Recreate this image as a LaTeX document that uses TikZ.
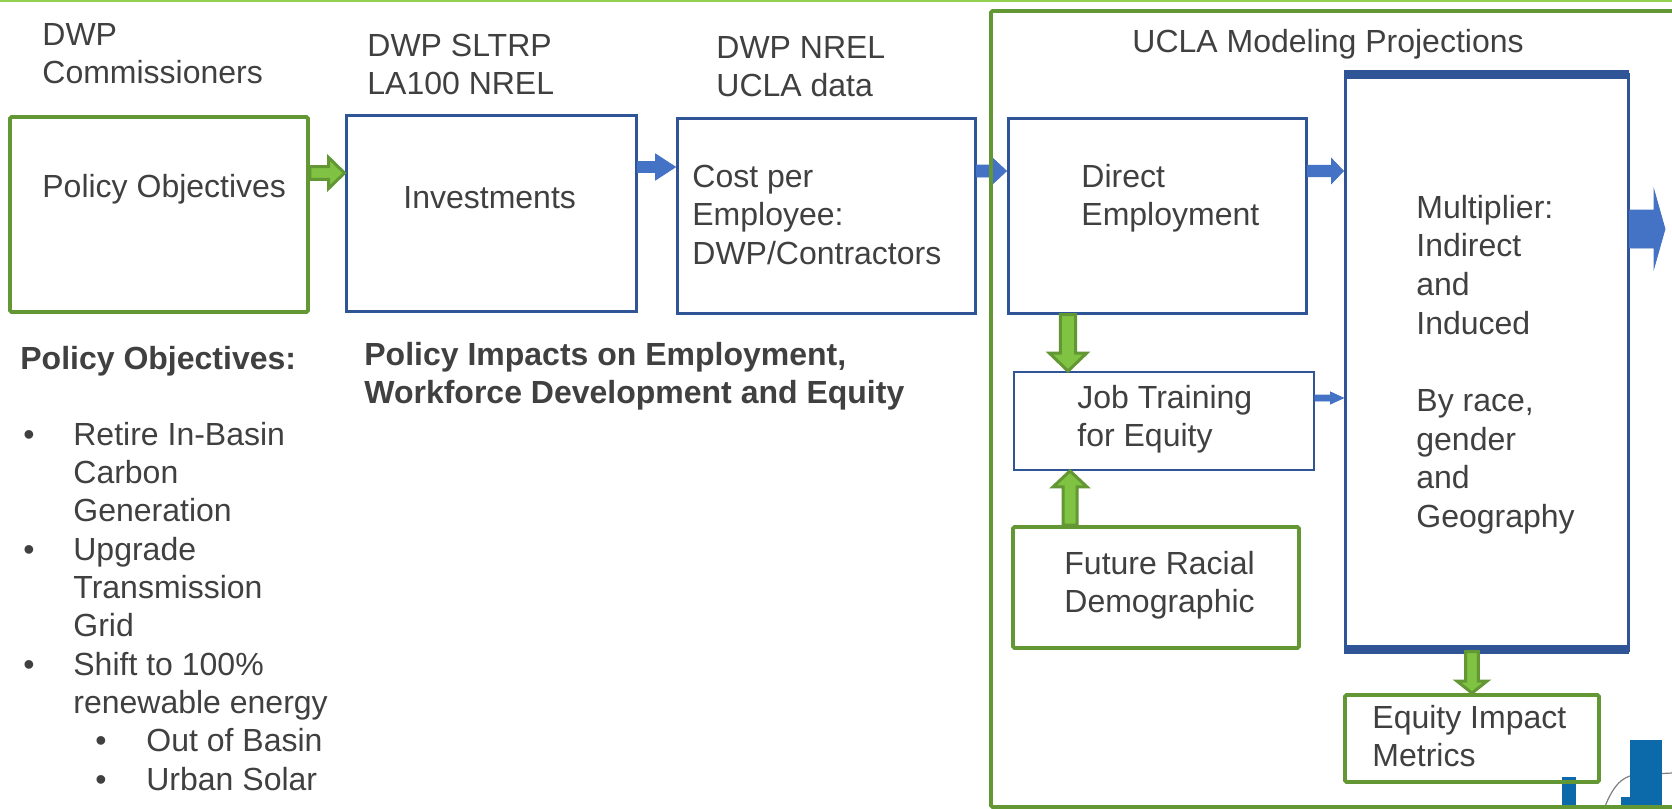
\documentclass[tikz,border=0pt]{standalone}
\usepackage{fontspec}
\setmainfont{Liberation Sans}
\usetikzlibrary{fit,calc}
\definecolor{gdark}{RGB}{99,151,51}
\definecolor{glight}{RGB}{128,194,66}
\definecolor{gtop}{RGB}{146,208,80}
\definecolor{bdark}{RGB}{47,85,151}
\definecolor{bfill}{RGB}{68,114,196}
\definecolor{tgray}{RGB}{64,64,64}
\definecolor{logob}{RGB}{12,105,170}
\newcommand\mlines[1]{\vtop{\baselineskip=19.35pt\halign{##\hfil\cr#1\crcr}}}
\newcommand\lbul[1]{\hbox{\hbox to 25pt{\textbullet\hfil}#1}}
\newcommand\lcont[1]{\hbox{\hskip25pt #1}}
\newcommand\lsub[1]{\hbox{\hskip36pt\hbox to 25.5pt{\textbullet\hfil}#1}}
% horizontal block arrow: style, from, to, shaft half, head half, head length
\newcommand\harr[6]{\path[#1] let \p1=(#2), \p2=(#3) in
  (\x1,\y1+#4) -- (\x2-#6,\y1+#4) -- (\x2-#6,\y1+#5) -- (\x2,\y1) -- (\x2-#6,\y1-#5) -- (\x2-#6,\y1-#4) -- (\x1,\y1-#4) -- cycle;}
\newcommand\darr[6]{\path[#1] let \p1=(#2), \p2=(#3) in
  (\x1-#4,\y1) -- (\x1-#4,\y2+#6) -- (\x1-#5,\y2+#6) -- (\x1,\y2) -- (\x1+#5,\y2+#6) -- (\x1+#4,\y2+#6) -- (\x1+#4,\y1) -- cycle;}
\newcommand\uarr[6]{\path[#1] let \p1=(#2), \p2=(#3) in
  (\x1-#4,\y1) -- (\x1-#4,\y2-#6) -- (\x1-#5,\y2-#6) -- (\x1,\y2) -- (\x1+#5,\y2-#6) -- (\x1+#4,\y2-#6) -- (\x1+#4,\y1) -- cycle;}
\tikzset{
  gbox/.style={draw=gdark, line width=1.9pt, inner sep=0pt, rounded corners=0.8pt},
  bbox/.style={draw=bdark, line width=1.5pt, inner sep=0pt},
  tb/.style={inner sep=0pt, anchor=base west, text=tgray, font=\fontsize{16}{19.35}\selectfont},
  tbb/.style={tb, font=\fontsize{16}{19.35}\selectfont\bfseries},
  garr/.style={fill=glight, draw=gdark, line width=1.5pt},
  barr/.style={fill=bfill, draw=bfill, line width=0.4pt},
}
\begin{document}
\begin{tikzpicture}[x=0.5pt, y=-0.5pt]
\useasboundingbox (0,0) rectangle (1672,809);
\clip (0,0) rectangle (1672,809);
\fill[white] (0,0) rectangle (1672,809);
\draw[gtop, line width=1.2pt] (0,1) -- (1672,1);

% logo fragment
\draw[gray, line width=0.6pt] (1603,812) .. controls (1612,786) and (1622,777) .. (1634,775) -- (1672,773);
\fill[logob] (1562,777) rectangle (1576,812);
\fill[logob] (1630,740) rectangle (1662,812);
\fill[logob] (1621,797) rectangle (1630,812);

% boxes
\node[gbox, fit={(10,117) (308,312)}] (pol) {};
\node[bbox, fit={(346,115) (636,311)}] (inv) {};
\node[bbox, fit={(677,118) (975,313)}] (cost) {};
\node[bbox, fit={(1008,118) (1306,313)}] (dir) {};
\node[bbox, fit={(1345,74) (1628,650)}] (mult) {};
\node[bbox, line width=0.9pt, fit={(1014,372) (1314,470)}] (job) {};
\node[gbox, fit={(1013,527) (1299,648)}] (fut) {};
\node[gbox, fit={(1345,695) (1599,782)}] (eq) {};
\fill[bdark] (1344,70) rectangle (1629,79);
\fill[bdark] (1344,645) rectangle (1629,654);

% arrows
\coordinate (bigtip) at (1665,229);
\harr{garr}{pol.east |- 0,173}{inv.west |- 0,173}{3.2pt}{7.8pt}{8pt}
\harr{barr}{inv.east |- 0,167}{cost.west |- 0,167}{2.75pt}{6.5pt}{10pt}
\harr{barr}{cost.east |- 0,171}{dir.west |- 0,171}{3pt}{6.5pt}{7pt}
\harr{barr}{dir.east |- 0,171}{mult.west |- 0,171}{2.9pt}{6.25pt}{6pt}
\harr{barr}{job.east |- 0,398}{mult.west |- 0,398}{1.5pt}{3pt}{6.5pt}
\harr{barr}{mult.east |- 0,229}{bigtip}{9.5pt}{19.5pt}{5.5pt}
\darr{garr}{dir.south -| 1068,0}{job.north -| 1068,0}{3.8pt}{9.3pt}{9pt}
\uarr{garr}{fut.north -| 1070,0}{job.south -| 1070,0}{3.5pt}{8.5pt}{8pt}
\darr{garr}{mult.south -| 1472,0}{eq.north -| 1472,0}{3.2pt}{7.5pt}{6pt}

% container (drawn over the crossing arrow)
\node[gbox, fit={(991,11) (1710,807)}] (ucla) {};

% texts
\node[tb] (dwpc) at (42,45) {\mlines{DWP\cr Commissioners}};
\node[tb] (sltrp) at (367,56) {\mlines{DWP SLTRP\cr LA100 NREL}};
\node[tb] (nrel) at (716,58) {\mlines{DWP NREL\cr UCLA data}};
\node[tb] (uclat) at (1132,52) {UCLA Modeling Projections};
\node[tb] (polt) at (42,197) {Policy Objectives};
\node[tb] (invt) at (403,208) {Investments};
\node[tb] (costt) at (692,187) {\mlines{Cost per\cr Employee:\cr DWP/Contractors}};
\node[tb] (dirt) at (1081,187) {\mlines{Direct\cr Employment}};
\node[tb] (multt) at (1416,218) {\mlines{Multiplier:\cr Indirect\cr and\cr Induced\cr\mbox{}\cr By race,\cr gender\cr and\cr Geography}};
\node[tb] (jobt) at (1077,408) {\mlines{Job Training\cr for Equity}};
\node[tb] (futt) at (1064,574) {\mlines{Future Racial\cr Demographic}};
\node[tb] (eqt) at (1372,728) {\mlines{Equity Impact\cr Metrics}};
\node[tbb] (poh) at (20,369) {Policy Objectives:};
\node[tbb] (pih) at (364,365) {\mlines{Policy Impacts on Employment,\cr Workforce Development and Equity}};
\node[tb] (objlist) at (23,445) {\vtop{\baselineskip=19.17pt
  \lbul{Retire In-Basin}\lcont{Carbon}\lcont{Generation}
  \lbul{Upgrade}\lcont{Transmission}\lcont{Grid}
  \lbul{Shift to 100\%}\lcont{renewable energy}
  \lsub{Out of Basin}\lsub{Urban Solar}}};
\end{tikzpicture}
\end{document}
